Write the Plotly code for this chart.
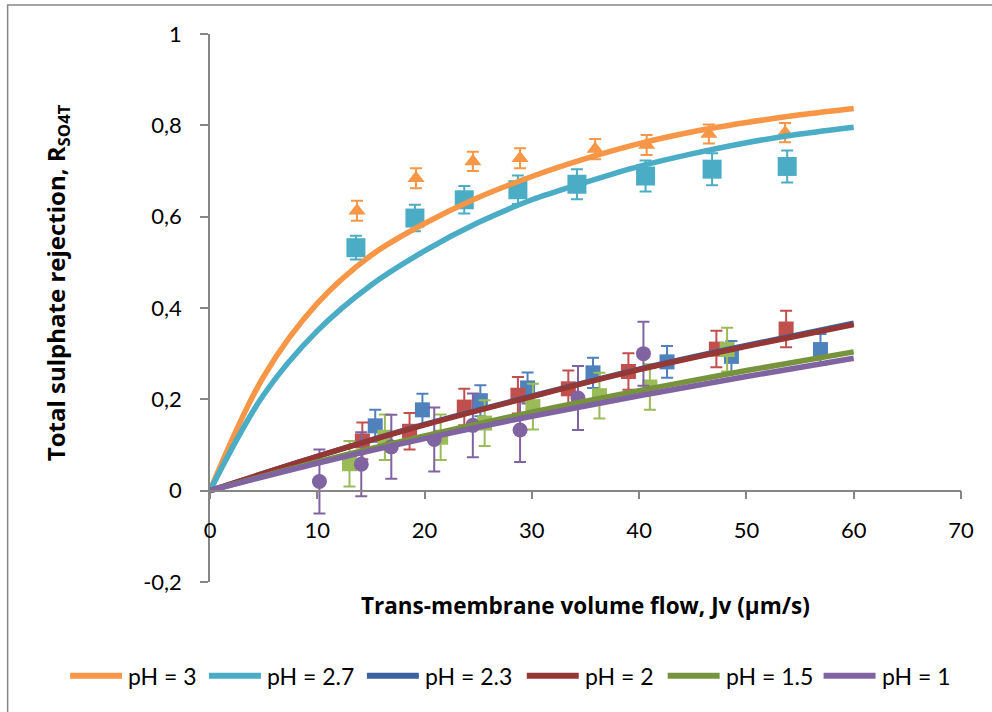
import plotly.graph_objects as go

# ---------------- data ----------------
series_names = ["pH = 3", "pH = 2.7", "pH = 2.3", "pH = 2", "pH = 1.5", "pH = 1"]

# fitted curves
fit_x_fine = [0, 5, 10, 15, 20, 25, 30, 35, 40, 45, 50, 55, 60]
fit_ph3 = [0, 0.25, 0.41, 0.515, 0.585, 0.642, 0.688, 0.727, 0.76, 0.786, 0.806, 0.823, 0.837]
fit_ph27 = [0, 0.21, 0.35, 0.45, 0.525, 0.587, 0.637, 0.675, 0.71, 0.738, 0.762, 0.781, 0.796]

fit_x_coarse = [0, 10, 20, 30, 40, 50, 60]
fit_ph23 = [0, 0.075, 0.145, 0.207, 0.266, 0.318, 0.367]
fit_ph2 = [0, 0.075, 0.144, 0.206, 0.265, 0.316, 0.364]
fit_ph15 = [0, 0.063, 0.12, 0.172, 0.219, 0.263, 0.304]
fit_ph1 = [0, 0.06, 0.114, 0.163, 0.208, 0.25, 0.290]

# experimental points
x_ph3 = [13.7, 19.2, 24.5, 28.9, 35.9, 40.7, 46.5, 53.6]
y_ph3 = [0.613, 0.684, 0.721, 0.728, 0.748, 0.757, 0.781, 0.784]
e_ph3 = [0.022, 0.022, 0.021, 0.022, 0.022, 0.022, 0.021, 0.021]

x_ph27 = [13.6, 19.1, 23.7, 28.7, 34.2, 40.6, 46.8, 53.8]
y_ph27 = [0.532, 0.597, 0.637, 0.659, 0.671, 0.689, 0.704, 0.710]
e_ph27 = [0.026, 0.029, 0.030, 0.031, 0.033, 0.034, 0.035, 0.035]

x_ph23 = [15.4, 19.8, 25.2, 29.6, 35.7, 42.6, 48.6, 56.9]
y_ph23 = [0.142, 0.177, 0.197, 0.225, 0.258, 0.282, 0.294, 0.309]
e_ph23 = [0.035, 0.035, 0.034, 0.034, 0.033, 0.035, 0.034, 0.034]

x_ph2 = [14.2, 18.6, 23.7, 28.7, 33.4, 39.0, 47.2, 53.7]
y_ph2 = [0.109, 0.130, 0.183, 0.209, 0.223, 0.261, 0.310, 0.354]
e_ph2 = [0.04, 0.04, 0.04, 0.04, 0.04, 0.04, 0.04, 0.04]

x_ph15 = [13.0, 16.3, 21.5, 25.6, 30.1, 36.3, 41.0, 48.2]
y_ph15 = [0.059, 0.117, 0.117, 0.148, 0.184, 0.208, 0.227, 0.309]
e_ph15 = [0.05, 0.05, 0.05, 0.05, 0.05, 0.05, 0.05, 0.048]

x_ph1 = [10.2, 14.1, 16.9, 20.9, 24.5, 28.9, 34.3, 40.4]
y_ph1 = [0.02, 0.058, 0.096, 0.112, 0.143, 0.133, 0.203, 0.30]
e_ph1 = [0.07, 0.07, 0.07, 0.07, 0.07, 0.07, 0.07, 0.07]

y_tickvals = [-0.2, 0, 0.2, 0.4, 0.6, 0.8, 1]
y_ticktext = ["-0,2", "0", "0,2", "0,4", "0,6", "0,8", "1"]
x_tickvals = [0, 10, 20, 30, 40, 50, 60, 70]
x_ticktext = ["0", "10", "20", "30", "40", "50", "60", "70"]

x_title = "Trans-membrane volume flow, Jv (µm/s)"
y_title = "Total sulphate rejection, R<sub>SO4T</sub>"

# ---------------- styling ----------------
FONT = "Lato"
TFONT = "Open Sans"
AX = "#868686"
line_colors = ["#F79646", "#4BACC6", "#3A62A0", "#953735", "#77933C", "#8064A2"]
mark_colors = ["#F79646", "#4BACC6", "#4F81BD", "#C0504D", "#9BBB59", "#8064A2"]
mark_symbols = ["triangle-up", "square", "square", "square", "square", "circle"]
mark_sizes = [15, 19, 15, 15, 15, 15]
legend_px = [68, 207, 365, 525, 666, 822]   # left end of each legend line sample

fits = [(fit_x_fine, fit_ph3), (fit_x_fine, fit_ph27), (fit_x_coarse, fit_ph23),
        (fit_x_coarse, fit_ph2), (fit_x_coarse, fit_ph15), (fit_x_coarse, fit_ph1)]
points = [(x_ph3, y_ph3, e_ph3), (x_ph27, y_ph27, e_ph27), (x_ph23, y_ph23, e_ph23),
          (x_ph2, y_ph2, e_ph2), (x_ph15, y_ph15, e_ph15), (x_ph1, y_ph1, e_ph1)]

fig = go.Figure()

# markers with error bars
for i, (px, py, pe) in enumerate(points):
    fig.add_trace(go.Scatter(
        x=px, y=py, mode="markers", showlegend=False,
        marker=dict(symbol=mark_symbols[i], size=mark_sizes[i], color=mark_colors[i],
                    line=dict(width=0)),
        error_y=dict(type="data", array=pe, visible=True, color=mark_colors[i],
                     thickness=2, width=6),
        hoverinfo="skip"))

# fitted lines
for i, (fx, fy) in enumerate(fits):
    fig.add_trace(go.Scatter(
        x=fx, y=fy, mode="lines", name=series_names[i], showlegend=False,
        line=dict(color=line_colors[i], width=5.5, shape="spline", smoothing=1.0)))

# plot area geometry (px)
L, R_, T, B = 210, 30.5, 33.5, 129.5
W, H = 992, 712
pw = W - L - R_
ph = H - T - B


def px2x(p):
    return (p - L) / pw


def px2y(p):
    return (H - B - p) / ph


annotations = [
    dict(text="<b>" + x_title + "</b>", xref="paper", yref="paper",
         x=px2x(586), y=px2y(606), xanchor="center", yanchor="middle", showarrow=False,
         font=dict(family=TFONT, size=22.5)),
    dict(text="<b>" + y_title + "</b>", xref="paper", yref="paper",
         x=px2x(57), y=px2y(283), xanchor="center", yanchor="middle", showarrow=False,
         textangle=-90, font=dict(family=TFONT, size=24)),
]
shapes = [
    dict(type="rect", xref="paper", yref="paper",
         x0=px2x(7.5), x1=px2x(1100), y0=px2y(4.5), y1=px2y(800),
         line=dict(color=AX, width=1.5), fillcolor="rgba(0,0,0,0)", layer="below"),
]

# manual legend (line samples + labels)
LEG_Y = 676.5
for i, name in enumerate(series_names):
    x0 = legend_px[i]
    shapes.append(dict(type="line", xref="paper", yref="paper",
                       x0=px2x(x0 + 2), x1=px2x(x0 + 54), y0=px2y(LEG_Y), y1=px2y(LEG_Y),
                       line=dict(color=line_colors[i], width=6)))
    annotations.append(dict(text=name, xref="paper", yref="paper",
                            x=px2x(x0 + 58), y=px2y(LEG_Y), xanchor="left", yanchor="middle",
                            showarrow=False, font=dict(family=FONT, size=23)))

fig.update_layout(
    width=W, height=H,
    margin=dict(l=L, r=R_, t=T, b=B, pad=0),
    paper_bgcolor="white", plot_bgcolor="white",
    font=dict(family=FONT, size=22, color="#000000"),
    xaxis=dict(range=[0, 70], tickvals=x_tickvals, ticktext=x_ticktext,
               showgrid=False, zeroline=False, showline=True, linecolor=AX, linewidth=1.5,
               ticks="outside", ticklen=8, tickwidth=1.5, tickcolor=AX,
               anchor="free", position=0.2 / 1.2, ticklabelstandoff=12,
               tickfont=dict(family=FONT, size=22)),
    yaxis=dict(range=[-0.2, 1], tickvals=y_tickvals, ticktext=y_ticktext,
               showgrid=False, zeroline=False, showline=True, linecolor=AX, linewidth=1.5,
               ticks="outside", ticklen=8, tickwidth=1.5, tickcolor=AX,
               ticklabelstandoff=14, tickfont=dict(family=FONT, size=22)),
    showlegend=False,
    annotations=annotations,
    shapes=shapes,
)

fig.write_html("out.html")
